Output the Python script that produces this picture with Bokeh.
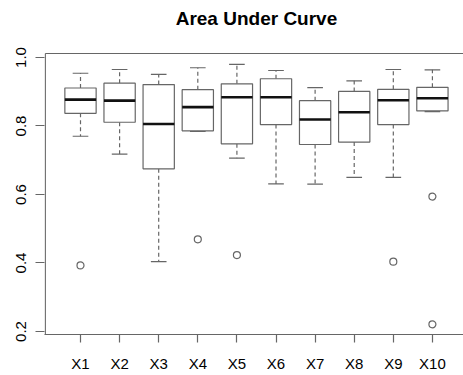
from bokeh.plotting import figure
from bokeh.models import Range1d, FixedTicker, ColumnDataSource
from bokeh.core.properties import value
from bokeh.embed import file_html
from bokeh.resources import INLINE

categories = ["X1", "X2", "X3", "X4", "X5", "X6", "X7", "X8", "X9", "X10"]
whisker_high = [0.954, 0.965, 0.951, 0.970, 0.980, 0.962, 0.912, 0.932, 0.965, 0.964]
q3 = [0.911, 0.925, 0.921, 0.906, 0.923, 0.938, 0.874, 0.901, 0.907, 0.913]
median = [0.877, 0.874, 0.806, 0.855, 0.884, 0.884, 0.819, 0.840, 0.875, 0.881]
q1 = [0.837, 0.811, 0.675, 0.786, 0.748, 0.804, 0.746, 0.753, 0.804, 0.844]
whisker_low = [0.770, 0.718, 0.404, 0.784, 0.706, 0.631, 0.630, 0.650, 0.650, 0.842]
outliers = [[0.393], [], [], [0.469], [0.423], [], [], [], [0.404], [0.594, 0.221]]
y_ticks = [0.2, 0.4, 0.6, 0.8, 1.0]
title_text = "Area Under Curve"

pos = list(range(1, len(categories) + 1))
box_w = 0.8
cap_w = 0.4

src = ColumnDataSource(dict(
    x=pos,
    left=[p - box_w / 2 for p in pos],
    right=[p + box_w / 2 for p in pos],
    cl=[p - cap_w / 2 for p in pos],
    cr=[p + cap_w / 2 for p in pos],
    wh=whisker_high, q3=q3, med=median, q1=q1, wl=whisker_low,
))

ox, oy = [], []
for p_, vals in zip(pos, outliers):
    for v in vals:
        ox.append(p_)
        oy.append(v)

# plot-region (box) limits, R style: 4% padding
box_x0, box_x1 = 0.1, 10.9
box_y0, box_y1 = 0.1913, 1.0117

p = figure(width=463, height=375, output_backend="svg", toolbar_location=None,
           x_range=Range1d(0.0793, 10.795), y_range=Range1d(0.19124, 1.1664),
           min_border=0,
           min_border_left=44, min_border_right=0, min_border_top=0, min_border_bottom=41)

p.outline_line_color = None
p.xgrid.visible = False
p.ygrid.visible = False
p.background_fill_color = "white"
p.border_fill_color = "white"

line_col = "#666666"
gray_w = 1.2

# whiskers
p.segment(x0="x", y0="q3", x1="x", y1="wh", source=src, line_color=line_col,
          line_width=gray_w, line_dash="4 3")
p.segment(x0="x", y0="q1", x1="x", y1="wl", source=src, line_color=line_col,
          line_width=gray_w, line_dash="4 3")
# caps
p.segment(x0="cl", y0="wh", x1="cr", y1="wh", source=src, line_color=line_col, line_width=gray_w)
p.segment(x0="cl", y0="wl", x1="cr", y1="wl", source=src, line_color=line_col, line_width=gray_w)
# boxes
p.quad(left="left", right="right", bottom="q1", top="q3", source=src,
       fill_color="white", line_color=line_col, line_width=gray_w)
# medians
p.segment(x0="left", y0="med", x1="right", y1="med", source=src, line_color="#111111", line_width=2.6)
# outliers
p.scatter(ox, oy, size=7, marker="circle", fill_color=None, line_color=line_col, line_width=gray_w)

# plot box: left and top edges (bottom edge is the x axis line)
p.segment(x0=[box_x0, box_x0], y0=[box_y0, box_y1], x1=[box_x0, box_x1], y1=[box_y1, box_y1],
          line_color=line_col, line_width=gray_w)

# title
p.text(x=[5.5], y=[1.1153], text=[title_text], text_align="center",
       text_baseline="alphabetic", text_font=value("Liberation Sans"),
       text_font_size="19px", text_font_style="bold", text_color="#000000")

for ax in (p.xaxis[0], p.yaxis[0]):
    ax.axis_line_color = line_col
    ax.axis_line_width = gray_w
    ax.major_tick_line_color = line_col
    ax.major_tick_line_width = gray_w
    ax.major_tick_in = 0
    ax.minor_tick_line_color = None
    ax.major_label_text_font = "Liberation Sans"
    ax.major_label_text_font_size = "15px"
    ax.major_label_text_color = "#000000"

p.yaxis.axis_line_color = None

p.xaxis.ticker = FixedTicker(ticks=pos)
p.xaxis.major_label_overrides = {i: c for i, c in zip(pos, categories)}
p.xaxis.major_tick_out = 8
p.xaxis.major_label_standoff = 12

p.yaxis.ticker = FixedTicker(ticks=y_ticks)
p.yaxis.major_label_overrides = {t: f"{t:.1f}" for t in y_ticks}
p.yaxis.major_tick_out = 9
p.yaxis.major_label_standoff = 9
p.yaxis.major_label_orientation = "vertical"

open("out.html", "w").write(file_html(p, INLINE))
